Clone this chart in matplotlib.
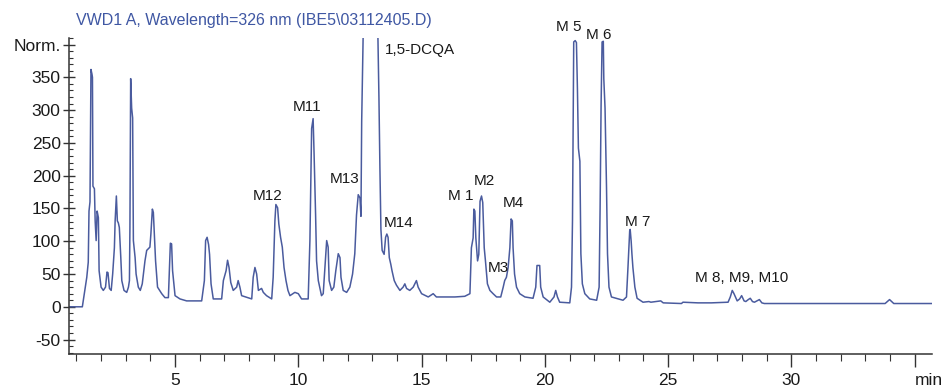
import matplotlib
matplotlib.use("Agg")
import matplotlib.pyplot as plt
from matplotlib.ticker import MultipleLocator

plt.rcParams['font.family'] = ['Liberation Sans', 'DejaVu Sans']

# retention time (min) and signal (Norm.)
time_min = [0.70, 1.24, 1.32, 1.42, 1.48, 1.51, 1.55, 1.59, 1.63, 1.65, 1.67, 1.73, 1.76, 1.80,
            1.84, 1.89, 1.92, 2.00, 2.09, 2.18, 2.24, 2.28, 2.34, 2.41, 2.47, 2.54, 2.57, 2.62,
            2.66, 2.70, 2.74, 2.80, 2.84, 2.93, 3.04, 3.11, 3.15, 3.17, 3.20, 3.24, 3.28, 3.31,
            3.38, 3.42, 3.51, 3.59, 3.67, 3.78, 3.85, 3.98, 4.02, 4.08, 4.12, 4.16, 4.21, 4.29,
            4.46, 4.59, 4.73, 4.77, 4.81, 4.86, 4.90, 5.00, 5.20, 5.47, 6.08, 6.19, 6.24, 6.30,
            6.36, 6.40, 6.46, 6.55, 6.89, 6.96, 7.07, 7.13, 7.19, 7.26, 7.36, 7.50, 7.56, 7.63,
            7.70, 8.11, 8.17, 8.24, 8.31, 8.38, 8.51, 8.58, 8.71, 8.92, 8.98, 9.05, 9.09, 9.16,
            9.21, 9.28, 9.35, 9.42, 9.50, 9.58, 9.66, 9.86, 10.00, 10.13, 10.40, 10.47, 10.54,
            10.60, 10.64, 10.70, 10.74, 10.81, 10.94, 11.01, 11.08, 11.15, 11.21, 11.25, 11.35,
            11.44, 11.52, 11.62, 11.69, 11.73, 11.82, 11.96, 12.09, 12.20, 12.29, 12.36, 12.43,
            12.50, 12.54, 12.57, 12.63, 12.75, 12.93, 13.10, 13.22, 13.27, 13.31, 13.35, 13.40,
            13.48, 13.54, 13.59, 13.64, 13.69, 13.75, 13.80, 13.89, 13.98, 14.12, 14.25, 14.32,
            14.39, 14.52, 14.66, 14.79, 14.86, 15.00, 15.27, 15.47, 15.60, 16.35, 16.75, 16.96,
            17.02, 17.09, 17.12, 17.16, 17.20, 17.27, 17.32, 17.37, 17.43, 17.48, 17.54, 17.59,
            17.67, 17.77, 17.90, 18.04, 18.21, 18.31, 18.37, 18.44, 18.51, 18.58, 18.63, 18.68,
            18.71, 18.77, 18.85, 18.98, 19.19, 19.52, 19.63, 19.68, 19.79, 19.83, 19.93, 20.20,
            20.37, 20.44, 20.51, 20.60, 21.01, 21.08, 21.12, 21.17, 21.23, 21.28, 21.32, 21.36,
            21.42, 21.46, 21.52, 21.62, 21.82, 22.10, 22.20, 22.24, 22.28, 22.32, 22.37, 22.39,
            22.44, 22.50, 22.54, 22.60, 22.70, 23.17, 23.31, 23.37, 23.44, 23.46, 23.50, 23.53,
            23.57, 23.65, 23.74, 23.98, 24.22, 24.30, 24.70, 24.80, 25.54, 25.60, 26.21, 26.75,
            27.43, 27.52, 27.60, 27.67, 27.80, 27.90, 27.98, 28.08, 28.15, 28.25, 28.33, 28.42,
            28.50, 28.60, 28.70, 28.80, 28.90, 33.80, 33.98, 34.15, 35.70]
signal = [0, 0, 20, 45, 68, 146, 160, 362, 355, 350, 184, 180, 131, 101,
          146, 136, 55, 30, 25, 30, 53, 52, 28, 25, 50, 90, 131, 169,
          131, 128, 121, 75, 40, 25, 22, 30, 40, 121, 348, 303, 288, 101,
          75, 50, 30, 25, 35, 70, 86, 91, 111, 149, 144, 111, 70, 30,
          20, 14, 14, 55, 97, 96, 55, 17, 12, 9, 9, 40, 101, 106,
          95, 80, 35, 12, 12, 40, 55, 71, 60, 37, 25, 30, 40, 30,
          17, 12, 45, 60, 50, 25, 28, 22, 17, 12, 45, 131, 156, 151,
          126, 106, 91, 60, 40, 25, 17, 22, 20, 12, 12, 101, 272,
          287, 232, 141, 70, 40, 17, 20, 60, 101, 91, 40, 25,
          30, 55, 81, 75, 45, 25, 22, 30, 50, 81, 140, 171,
          166, 138, 283, 410, 700, 1000, 700, 430, 318, 210, 118, 86,
          80, 106, 111, 106, 75, 65, 55, 40, 33, 25, 30, 35,
          28, 25, 30, 40, 30, 20, 15, 20, 15, 15, 16, 20,
          90, 105, 149, 146, 105, 70, 80, 161, 169, 159, 90, 70,
          35, 25, 20, 15, 15, 30, 40, 45, 60, 90, 134, 131,
          90, 50, 30, 20, 15, 13, 30, 63, 63, 30, 15, 7,
          15, 25, 15, 7, 6, 30, 131, 404, 406, 403, 333, 242,
          222, 81, 35, 20, 12, 10, 30, 151, 308, 404, 405, 348,
          303, 182, 81, 30, 15, 10, 15, 60, 116, 118, 100, 81,
          60, 30, 13, 7, 8, 7, 9, 6, 5, 7, 6, 6,
          7, 15, 25, 20, 9, 12, 17, 9, 8, 11, 13, 8,
          7, 9, 11, 6, 5, 5, 11, 5, 5]

peak_labels = ["M12", "M11", "M13", "1,5-DCQA", "M14", "M 1", "M2", "M3", "M4",
               "M 5", "M 6", "M 7", "M 8, M9, M10"]
label_x = [8.77, 10.35, 11.89, 13.51, 14.07, 16.60, 17.55, 18.13, 18.74,
           20.97, 22.20, 23.77, 28.00]
label_y = [169, 304, 195, 392, 128, 169, 192, 59, 158, 426, 415, 130, 44]
label_ha = ["center", "center", "center", "left", "center", "center", "center",
            "center", "center", "center", "center", "center", "center"]

y_ticks = [-50, 0, 50, 100, 150, 200, 250, 300, 350, 400]
y_ticklabels = ["-50", "0", "50", "100", "150", "200", "250", "300", "350", "Norm."]
x_ticks = [5, 10, 15, 20, 25, 30, 35]
x_ticklabels = ["5", "10", "15", "20", "25", "30", ""]

line_color = "#4a5b9e"

fig = plt.figure(figsize=(9.43, 3.9), dpi=100)
ax = fig.add_axes([0.0732, 0.0923, 0.9151, 0.8103])

ax.plot(time_min, signal, color=line_color, lw=1.1)

for lab, x, y, ha in zip(peak_labels, label_x, label_y, label_ha):
    ax.text(x, y, lab, ha=ha, va="center", fontsize=11, color="#1a1a1a")

ax.set_xlim(0.7, 35.7)
ax.set_ylim(-72, 410)

ax.spines["top"].set_visible(False)
ax.spines["right"].set_visible(False)
for s in ["left", "bottom"]:
    ax.spines[s].set_color("#333333")
    ax.spines[s].set_linewidth(1.1)

ax.set_yticks(y_ticks)
ax.set_yticklabels(y_ticklabels)
ax.yaxis.set_minor_locator(MultipleLocator(10))
ax.set_xticks(x_ticks)
ax.set_xticklabels(x_ticklabels)
ax.xaxis.set_minor_locator(MultipleLocator(1))

ax.tick_params(axis="y", which="major", direction="inout", length=8, width=1,
               labelsize=12.5, colors="#333333", labelcolor="#1a1a1a", pad=2)
ax.tick_params(axis="y", which="minor", direction="in", length=3, width=0.8, colors="#333333")
ax.tick_params(axis="x", which="major", direction="out", length=9, width=1,
               labelsize=12.5, colors="#333333", labelcolor="#1a1a1a", pad=5)
ax.tick_params(axis="x", which="minor", direction="out", length=5, width=0.8, colors="#333333")

# axis unit sits where the 35 label would be
ax.annotate("min", xy=(35.0, -72), xytext=(0, -14), textcoords="offset points",
            ha="left", va="top", fontsize=12.5, color="#1a1a1a", annotation_clip=False)

fig.text(76 / 943, 1 - 20.5 / 390, "VWD1 A, Wavelength=326 nm (IBE5\\03112405.D)",
         ha="left", va="center", fontsize=11.5, color="#3f57a3")

fig.savefig("out.png", dpi=100)
